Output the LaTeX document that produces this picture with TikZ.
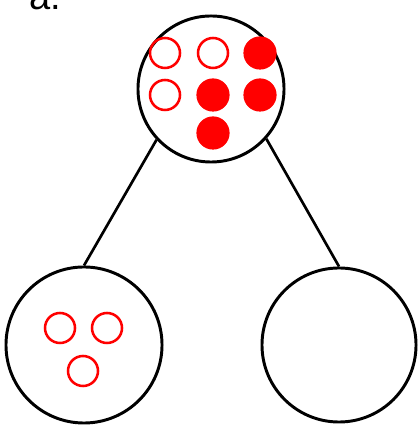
\documentclass[tikz,border=0pt]{standalone}
\usepackage{fontspec}
\setmainfont{Liberation Sans}
\begin{document}
\begin{tikzpicture}[x=0.025cm, y=0.025cm,
    set/.style={draw, circle, line width=2.1pt, minimum size=#1},
    open/.style={draw=red, circle, line width=1.8pt, minimum size=0.75cm, inner sep=0pt},
    full/.style={fill=red, circle, minimum size=0.83cm, inner sep=0pt}]
    \useasboundingbox (0,0) rectangle (417,426);
    \node[anchor=base west, inner sep=0pt, font=\fontsize{27}{30}\selectfont] (lbl) at (29, 416) {a.};
    % the three sets
    \node[set=3.65cm] (top) at (211, 337) {};
    \node[set=3.9cm] (left) at (84, 81) {};
    \node[set=3.85cm] (right) at (339, 81) {};
    % balls in the top set
    \node[open] (t1) at (165, 373) {};
    \node[open] (t2) at (213, 373) {};
    \node[full] (t3) at (260, 373) {};
    \node[open] (t4) at (165, 331) {};
    \node[full] (t5) at (213, 331) {};
    \node[full] (t6) at (260, 331) {};
    \node[full] (t7) at (213, 293) {};
    % balls in the left set
    \node[open] (l1) at (60, 98) {};
    \node[open] (l2) at (107, 98) {};
    \node[open] (l3) at (83, 55) {};
    \draw[line width=1.9pt] (top.223) -- (left.north);
    \draw[line width=1.9pt] (top.318) -- (right.north);
\end{tikzpicture}
\end{document}
